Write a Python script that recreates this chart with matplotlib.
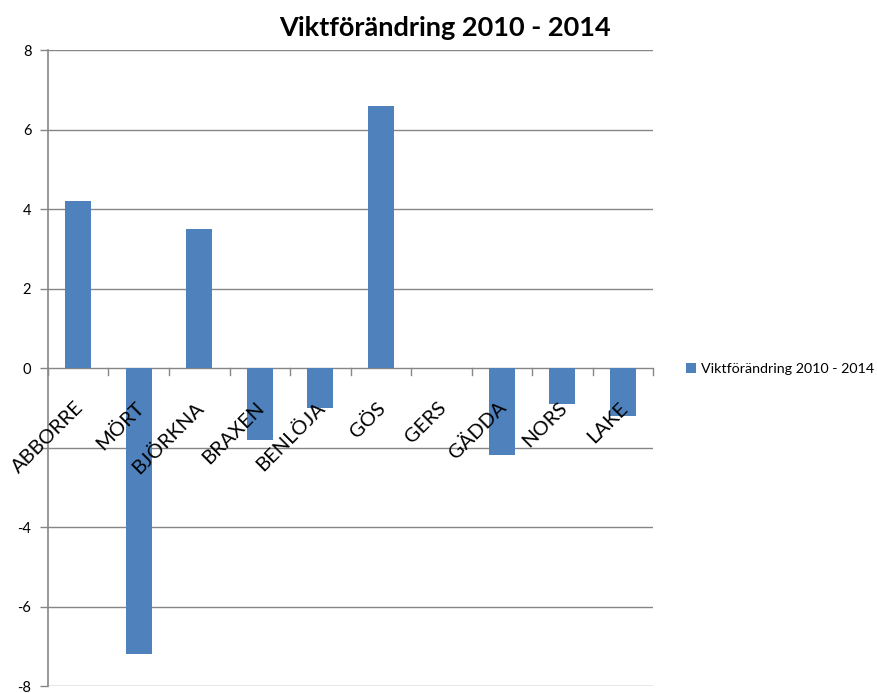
import matplotlib
matplotlib.use('Agg')
from matplotlib import pyplot as plt

# data
species = ['ABBORRE', 'MÖRT', 'BJÖRKNA', 'BRAXEN', 'BENLÖJA',
           'GÖS', 'GERS', 'GÄDDA', 'NORS', 'LAKE']
change = [4.2, -7.2, 3.5, -1.8, -1.0, 6.6, 0.0, -2.2, -0.9, -1.2]
yticks = [-8, -6, -4, -2, 0, 2, 4, 6, 8]
ytick_labels = ['-8', '-6', '-4', '', '0', '2', '4', '6', '8']
series_name = 'Viktförändring 2010 - 2014'

plt.rcParams['font.family'] = ['Lato', 'DejaVu Sans']
grid_color = '#868686'
bar_color = '#4F81BD'

fig = plt.figure(figsize=(8.77, 6.93), dpi=100)
ax = fig.add_axes([0.0547, 0.0101, 0.69, 0.9177])

x = list(range(len(species)))
bars = ax.bar(x, change, width=0.43, color=bar_color, zorder=2,
              label=series_name)

ax.set_xlim(-0.5, len(species) - 0.5)
ax.set_ylim(-8, 8)
ax.set_yticks(yticks)
ax.set_yticklabels(ytick_labels)
ax.tick_params(axis='y', length=6, width=1, color=grid_color,
               labelsize=10.5, pad=6)
ax.set_xticks([])

for s in ['top', 'right', 'bottom']:
    ax.spines[s].set_visible(False)
ax.spines['left'].set_color(grid_color)
ax.spines['left'].set_linewidth(1.2)

for v in yticks:
    ax.axhline(v, color=grid_color, lw=1, zorder=1)

# small ticks on the category axis at zero
for k in range(len(species) + 1):
    ax.plot([k - 0.5, k - 0.5], [0, -0.17], color=grid_color, lw=1,
            zorder=1, clip_on=False)

# category labels sit under the zero line, rotated
for i, name in enumerate(species):
    ax.annotate(name, xy=(i, 0), xytext=(2, -37), textcoords='offset pixels',
                rotation=45, rotation_mode='anchor', ha='right', va='center',
                fontsize=14.5, zorder=5)

ax.set_title(series_name, fontsize=19.5, fontweight='bold', pad=10,
             x=0.656)

leg = fig.legend(handles=[bars], labels=[series_name],
                 loc='center left', bbox_to_anchor=(0.768, 0.468),
                 frameon=False, fontsize=10.3, handlelength=0.7,
                 handleheight=0.7, handletextpad=0.3)

fig.savefig('out.png', dpi=100)
